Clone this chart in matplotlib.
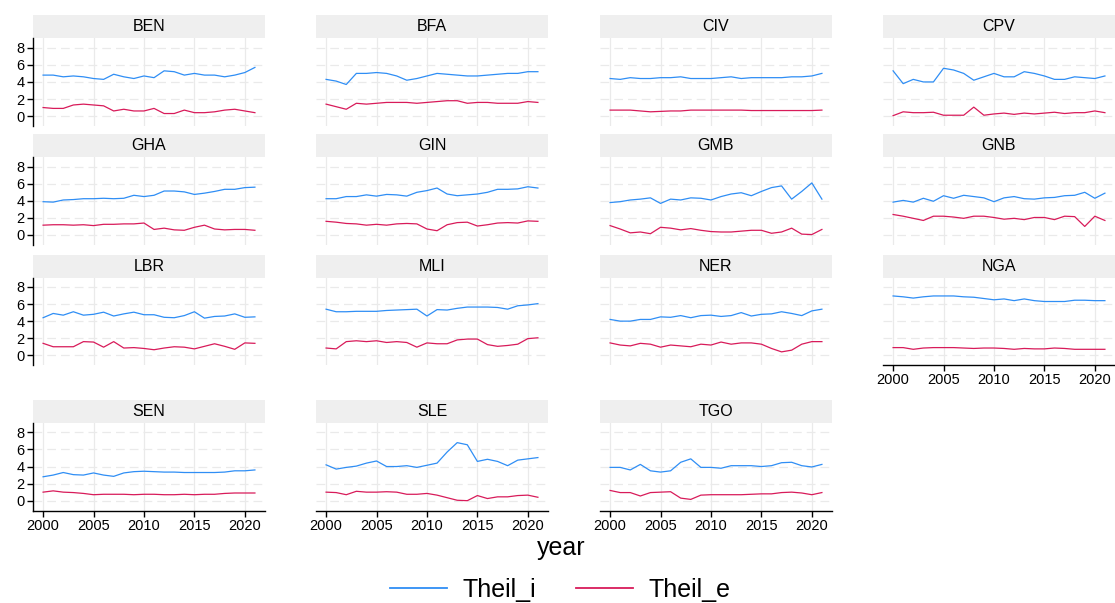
import matplotlib
matplotlib.use("Agg")
import matplotlib.pyplot as plt
from matplotlib.lines import Line2D

plt.rcParams['font.family'] = ['Liberation Sans', 'DejaVu Sans']

years = list(range(2000, 2022))

# Theil_i (blue) and Theil_e (red) per country
ben_i = [4.8, 4.8, 4.6, 4.7, 4.6, 4.4, 4.3, 4.9, 4.6, 4.4, 4.7, 4.5, 5.3, 5.2, 4.8, 5.0, 4.8, 4.8, 4.6, 4.8, 5.1, 5.7]
ben_e = [1.0, 0.9, 0.9, 1.3, 1.4, 1.3, 1.2, 0.6, 0.8, 0.6, 0.6, 0.9, 0.3, 0.3, 0.7, 0.4, 0.4, 0.5, 0.7, 0.8, 0.6, 0.4]
bfa_i = [4.3, 4.1, 3.7, 5.0, 5.0, 5.1, 5.0, 4.7, 4.2, 4.4, 4.7, 5.0, 4.9, 4.8, 4.7, 4.7, 4.8, 4.9, 5.0, 5.0, 5.2, 5.2]
bfa_e = [1.4, 1.1, 0.8, 1.5, 1.4, 1.5, 1.6, 1.6, 1.6, 1.5, 1.6, 1.7, 1.8, 1.8, 1.5, 1.6, 1.6, 1.5, 1.5, 1.5, 1.7, 1.6]
civ_i = [4.4, 4.3, 4.5, 4.4, 4.4, 4.5, 4.5, 4.6, 4.4, 4.4, 4.4, 4.5, 4.6, 4.4, 4.5, 4.5, 4.5, 4.5, 4.6, 4.6, 4.7, 5.0]
civ_e = [0.7, 0.7, 0.7, 0.6, 0.5, 0.55, 0.6, 0.6, 0.7, 0.7, 0.7, 0.7, 0.7, 0.7, 0.65, 0.65, 0.65, 0.65, 0.65, 0.65, 0.65, 0.7]
cpv_i = [5.3, 3.8, 4.3, 4.0, 4.0, 5.6, 5.4, 5.0, 4.2, 4.6, 5.0, 4.6, 4.6, 5.2, 5.0, 4.7, 4.3, 4.3, 4.6, 4.5, 4.4, 4.7]
cpv_e = [0.05, 0.5, 0.4, 0.4, 0.45, 0.1, 0.1, 0.1, 1.05, 0.1, 0.25, 0.35, 0.2, 0.35, 0.25, 0.35, 0.45, 0.3, 0.4, 0.4, 0.6, 0.4]
gha_i = [3.9, 3.85, 4.1, 4.15, 4.25, 4.25, 4.3, 4.25, 4.3, 4.65, 4.5, 4.65, 5.15, 5.15, 5.05, 4.75, 4.9, 5.1, 5.35, 5.35, 5.55, 5.6]
gha_e = [1.15, 1.2, 1.2, 1.15, 1.2, 1.1, 1.25, 1.25, 1.3, 1.3, 1.4, 0.65, 0.8, 0.6, 0.55, 0.9, 1.15, 0.7, 0.6, 0.65, 0.65, 0.55]
gin_i = [4.25, 4.25, 4.5, 4.5, 4.7, 4.55, 4.75, 4.7, 4.55, 5.0, 5.2, 5.5, 4.8, 4.6, 4.7, 4.8, 5.0, 5.35, 5.35, 5.4, 5.65, 5.5]
gin_e = [1.6, 1.5, 1.35, 1.3, 1.15, 1.25, 1.15, 1.3, 1.35, 1.3, 0.7, 0.5, 1.2, 1.45, 1.5, 1.05, 1.2, 1.4, 1.45, 1.4, 1.65, 1.6]
gmb_i = [3.8, 3.9, 4.1, 4.2, 4.35, 3.7, 4.2, 4.1, 4.35, 4.3, 4.1, 4.5, 4.8, 4.95, 4.6, 5.1, 5.55, 5.75, 4.2, 5.1, 6.1, 4.2]
gmb_e = [1.1, 0.7, 0.25, 0.35, 0.15, 0.9, 0.8, 0.6, 0.75, 0.55, 0.4, 0.35, 0.35, 0.45, 0.55, 0.55, 0.2, 0.35, 0.8, 0.1, 0.05, 0.65]
gnb_i = [3.85, 4.05, 3.85, 4.3, 3.95, 4.6, 4.3, 4.65, 4.5, 4.35, 3.9, 4.35, 4.5, 4.25, 4.2, 4.35, 4.4, 4.6, 4.65, 5.0, 4.3, 4.9]
gnb_e = [2.4, 2.2, 1.95, 1.7, 2.2, 2.2, 2.1, 1.95, 2.2, 2.2, 2.05, 1.85, 1.95, 1.8, 2.05, 2.05, 1.8, 2.2, 2.15, 1.0, 2.2, 1.7]
lbr_i = [4.4, 4.9, 4.7, 5.1, 4.7, 4.8, 5.05, 4.6, 4.85, 5.05, 4.75, 4.75, 4.45, 4.4, 4.65, 5.1, 4.35, 4.55, 4.6, 4.85, 4.45, 4.5]
lbr_e = [1.4, 1.0, 1.0, 1.0, 1.6, 1.55, 0.95, 1.6, 0.85, 0.9, 0.8, 0.65, 0.85, 1.0, 0.95, 0.75, 1.05, 1.35, 1.05, 0.7, 1.45, 1.4]
mli_i = [5.4, 5.1, 5.1, 5.15, 5.15, 5.15, 5.25, 5.3, 5.35, 5.4, 4.6, 5.35, 5.3, 5.5, 5.65, 5.65, 5.65, 5.6, 5.4, 5.8, 5.9, 6.05]
mli_e = [0.85, 0.75, 1.6, 1.7, 1.6, 1.7, 1.5, 1.6, 1.5, 0.95, 1.45, 1.35, 1.35, 1.8, 1.9, 1.9, 1.25, 1.05, 1.15, 1.3, 1.95, 2.05]
ner_i = [4.2, 4.0, 4.0, 4.2, 4.2, 4.5, 4.45, 4.65, 4.4, 4.65, 4.7, 4.55, 4.65, 5.0, 4.6, 4.8, 4.85, 5.1, 4.9, 4.65, 5.2, 5.4]
ner_e = [1.45, 1.2, 1.1, 1.4, 1.3, 0.95, 1.2, 1.1, 1.0, 1.3, 1.2, 1.55, 1.3, 1.45, 1.45, 1.3, 0.8, 0.4, 0.6, 1.3, 1.6, 1.6]
nga_i = [6.95, 6.85, 6.7, 6.85, 6.95, 6.95, 6.95, 6.85, 6.8, 6.65, 6.5, 6.6, 6.4, 6.6, 6.4, 6.3, 6.3, 6.3, 6.45, 6.45, 6.4, 6.4]
nga_e = [0.9, 0.9, 0.7, 0.85, 0.9, 0.9, 0.9, 0.85, 0.8, 0.85, 0.85, 0.8, 0.7, 0.8, 0.75, 0.75, 0.85, 0.8, 0.7, 0.7, 0.7, 0.7]
sen_i = [2.8, 3.0, 3.3, 3.05, 3.0, 3.25, 3.0, 2.85, 3.25, 3.4, 3.45, 3.4, 3.35, 3.35, 3.3, 3.3, 3.3, 3.3, 3.35, 3.5, 3.5, 3.6]
sen_e = [1.0, 1.15, 1.0, 0.95, 0.85, 0.7, 0.75, 0.75, 0.75, 0.7, 0.75, 0.75, 0.7, 0.7, 0.75, 0.7, 0.75, 0.75, 0.85, 0.9, 0.9, 0.9]
sle_i = [4.2, 3.7, 3.9, 4.05, 4.4, 4.65, 4.0, 4.0, 4.1, 3.9, 4.15, 4.4, 5.7, 6.8, 6.55, 4.6, 4.85, 4.6, 4.1, 4.75, 4.9, 5.05]
sle_e = [1.0, 0.95, 0.7, 1.1, 1.0, 1.0, 1.05, 1.0, 0.75, 0.75, 0.85, 0.65, 0.35, 0.05, 0.0, 0.6, 0.25, 0.45, 0.45, 0.6, 0.65, 0.4]
tgo_i = [3.9, 3.9, 3.6, 4.25, 3.5, 3.35, 3.5, 4.5, 4.9, 3.9, 3.9, 3.8, 4.1, 4.1, 4.1, 4.0, 4.1, 4.45, 4.5, 4.1, 3.95, 4.25]
tgo_e = [1.2, 0.95, 0.95, 0.55, 0.95, 1.0, 1.05, 0.3, 0.15, 0.65, 0.7, 0.7, 0.7, 0.7, 0.75, 0.8, 0.8, 0.95, 1.0, 0.9, 0.7, 0.95]

countries = ['BEN', 'BFA', 'CIV', 'CPV', 'GHA', 'GIN', 'GMB', 'GNB',
             'LBR', 'MLI', 'NER', 'NGA', 'SEN', 'SLE', 'TGO']
theil_i = [ben_i, bfa_i, civ_i, cpv_i, gha_i, gin_i, gmb_i, gnb_i,
           lbr_i, mli_i, ner_i, nga_i, sen_i, sle_i, tgo_i]
theil_e = [ben_e, bfa_e, civ_e, cpv_e, gha_e, gin_e, gmb_e, gnb_e,
           lbr_e, mli_e, ner_e, nga_e, sen_e, sle_e, tgo_e]

BLUE = '#2f8ef5'
RED = '#d81b5a'

W, H = 1115, 603
fig = plt.figure(figsize=(W / 100, H / 100), dpi=100)

# panel geometry in pixels
col_left = [33, 316, 600, 883]
strip_top = [15.4, 134.3, 254.6, 400]
pw, sh, ph = 232, 23, 87.5

for k, c in enumerate(countries):
    r, col = k // 4, k % 4
    l = col_left[col]
    t = strip_top[r]
    # strip
    sax = fig.add_axes([l / W, 1 - (t + sh) / H, pw / W, sh / H])
    sax.set_facecolor('#efefef')
    sax.set_xticks([])
    sax.set_yticks([])
    for s in sax.spines.values():
        s.set_visible(False)
    sax.text(0.5, 0.5, c, ha='center', va='center', fontsize=11.5, transform=sax.transAxes)

    ax = fig.add_axes([l / W, 1 - (t + sh + ph) / H, pw / W, ph / H])
    ax.plot(years, theil_i[k], color=BLUE, lw=0.9)
    ax.plot(years, theil_e[k], color=RED, lw=0.9)
    ax.set_xlim(1999, 2022)
    ax.set_ylim(-1.15, 9.1)
    ax.set_xticks([2000, 2005, 2010, 2015, 2020])
    ax.set_yticks([0, 2, 4, 6, 8])
    ax.grid(axis='x', color='#eaeaea', lw=0.9)
    ax.grid(axis='y', color='#eaeaea', lw=0.9, ls=(0, (7, 4)))
    ax.set_axisbelow(True)
    for s in ax.spines.values():
        s.set_visible(False)

    show_y = col == 0
    show_x = k >= 11
    if show_y:
        ax.spines['left'].set_visible(True)
        ax.spines['left'].set_linewidth(1.0)
    if show_x:
        ax.spines['bottom'].set_visible(True)
        ax.spines['bottom'].set_linewidth(1.0)
    ax.tick_params(axis='y', left=show_y, labelleft=show_y, length=4, width=1,
                   labelsize=10.5, pad=2)
    ax.tick_params(axis='x', bottom=show_x, labelbottom=show_x, length=4, width=1,
                   labelsize=10.5, pad=2)

fig.text(561 / W, 1 - 548 / H, 'year', ha='center', va='center', fontsize=18)

handles = [Line2D([], [], color=BLUE, lw=1.3), Line2D([], [], color=RED, lw=1.3)]
fig.legend(handles, ['Theil_i', 'Theil_e'], loc='center', bbox_to_anchor=(560 / W, 1 - 590 / H),
           ncol=2, frameon=False, fontsize=18, handlelength=2.3, handletextpad=0.6,
           columnspacing=1.6, borderaxespad=0, borderpad=0)

fig.savefig('out.png', dpi=100)
